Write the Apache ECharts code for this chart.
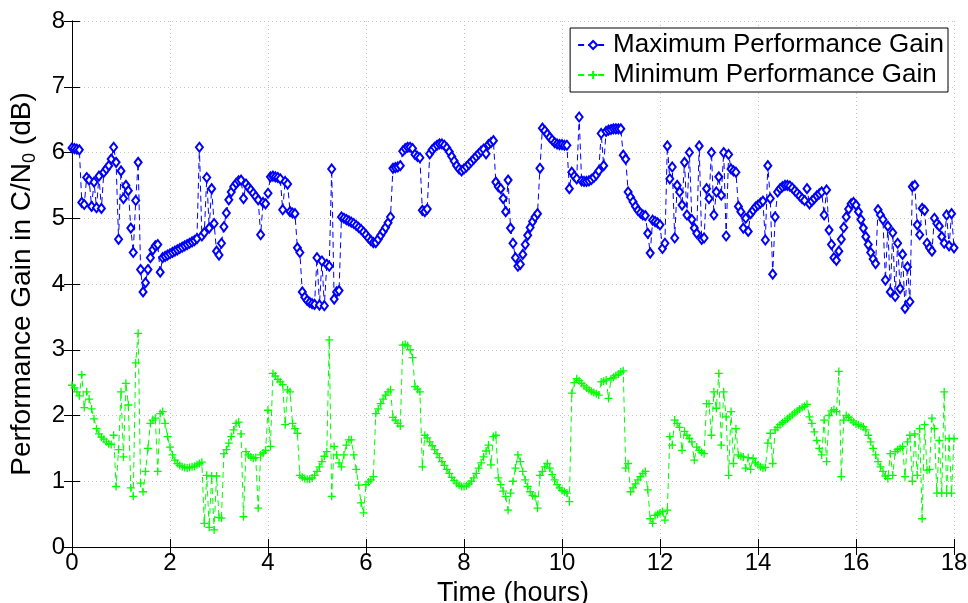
<!DOCTYPE html>
<html>
<head>
<meta charset="utf-8">
<script src="https://cdn.jsdelivr.net/npm/echarts@6/dist/echarts.min.js"></script>
<style>
  html, body { margin: 0; padding: 0; background: #fff; }
  #chart { width: 968px; height: 603px; }
</style>
</head>
<body>
<div id="chart"></div>
<script>
// Samples are logged every 3 minutes (0.05 h), from 0 h to 18 h.
const SAMPLE_STEP_H = 0.05;

// Maximum performance gain in C/N0 (dB), one row per hour.
const maxGain = [
  6.07,6.06,6.05,6.04,5.24,5.21,5.62,5.58,5.18,5.55,5.16,5.64,5.15,5.70,5.75,5.80,5.90,6.08,5.85,4.68,
  5.72,5.30,5.50,5.42,4.85,4.48,5.27,5.85,4.22,3.88,4.02,4.22,4.40,4.52,4.58,4.60,4.18,4.40,4.42,4.44,
  4.46,4.48,4.50,4.52,4.54,4.56,4.58,4.60,4.62,4.64,4.66,4.69,6.08,4.73,4.78,5.62,4.85,5.45,4.92,4.50,
  4.44,4.62,4.87,5.08,5.28,5.40,5.48,5.53,5.57,5.58,5.30,5.52,5.47,5.43,5.38,5.33,5.28,4.75,5.24,5.22,
  5.38,5.63,5.64,5.63,5.62,5.60,5.13,5.56,5.52,5.10,5.08,5.07,4.55,4.48,3.88,3.80,3.75,3.72,3.70,3.69,
  4.40,3.68,4.35,3.67,4.30,4.27,5.75,3.77,3.88,3.90,5.02,5.00,4.98,4.96,4.94,4.92,4.89,4.86,4.83,4.79,
  4.75,4.70,4.66,4.63,4.63,4.68,4.74,4.80,4.86,4.93,5.02,5.76,5.77,5.78,5.80,6.02,6.06,6.08,6.08,6.06,
  5.97,5.94,5.92,5.12,5.10,5.14,5.98,6.04,6.08,6.11,6.13,6.13,6.11,6.07,6.01,5.94,5.87,5.80,5.75,5.72,
  5.75,5.78,5.82,5.86,5.90,5.94,5.98,6.02,6.05,5.98,6.12,6.15,6.18,5.55,5.48,5.45,5.30,5.10,5.58,4.85,
  4.62,4.40,4.27,4.30,4.45,4.60,4.74,4.86,4.95,5.02,5.07,5.76,6.37,6.33,6.28,6.23,6.19,6.15,6.13,6.12,
  6.12,6.11,6.11,5.45,5.70,5.64,5.60,6.54,5.57,5.56,5.56,5.57,5.59,5.62,5.66,5.72,6.29,5.80,6.32,6.34,
  6.35,6.36,6.36,6.36,6.36,5.96,5.90,5.40,5.32,5.25,5.18,5.12,5.08,5.05,5.04,4.77,4.47,4.97,4.95,4.93,
  4.90,4.54,4.62,6.10,5.60,5.78,4.70,5.50,5.40,5.20,5.85,5.05,6.00,4.98,4.85,4.77,6.10,4.68,4.70,5.45,
  5.30,6.00,5.05,5.40,5.63,5.35,6.00,4.73,5.97,5.75,5.72,5.70,5.18,5.10,4.85,5.00,4.80,5.07,5.12,5.17,
  5.20,5.23,5.26,4.67,5.80,5.30,4.15,5.02,5.40,5.45,5.48,5.50,5.50,5.49,5.46,5.42,5.38,5.34,5.30,5.27,
  5.45,5.22,5.26,5.30,5.34,5.37,5.40,5.05,5.43,4.82,4.60,4.40,4.36,4.50,4.68,4.86,5.02,5.14,5.22,5.24,
  5.20,5.10,4.98,4.85,4.72,4.60,4.48,4.38,4.31,5.13,5.05,4.98,4.06,4.88,3.88,4.78,3.81,4.62,3.93,4.45,
  3.63,4.26,3.73,5.48,5.50,4.90,4.75,5.15,5.12,4.62,4.55,4.50,5.00,4.92,4.88,4.72,4.62,5.05,4.58,5.07,
  4.55
];

// Minimum performance gain in C/N0 (dB), one row per hour.
const minGain = [
  2.46,2.42,2.36,2.30,2.62,2.12,2.36,2.25,2.10,1.95,1.80,1.72,1.67,1.64,1.60,1.57,1.56,1.70,0.92,1.48,
  2.36,1.37,2.49,2.16,0.90,0.77,2.80,3.25,0.97,0.84,1.15,1.50,1.88,1.93,1.96,1.15,2.03,2.06,1.88,1.68,
  1.52,1.40,1.32,1.27,1.24,1.22,1.21,1.20,1.21,1.22,1.23,1.25,1.27,1.29,0.36,1.09,0.30,1.08,0.26,1.08,
  0.45,0.44,1.42,1.48,1.58,1.68,1.78,1.88,1.90,1.72,0.46,1.45,1.40,1.37,1.35,1.36,0.59,1.40,1.43,1.47,
  2.08,1.53,2.64,2.60,2.55,2.51,2.47,1.86,2.39,2.36,1.88,1.80,1.73,1.09,1.06,1.04,1.03,1.03,1.05,1.09,
  1.15,1.22,1.30,1.38,1.45,3.15,0.77,1.53,1.40,1.28,1.22,1.40,1.55,1.63,1.63,1.40,1.18,0.94,0.67,0.52,
  0.95,0.99,1.02,1.07,2.03,2.10,2.18,2.25,2.31,2.36,2.39,1.97,1.93,1.88,1.84,3.07,3.08,3.06,3.00,2.88,
  2.44,2.40,2.36,1.22,1.70,1.66,1.60,1.54,1.48,1.42,1.36,1.30,1.24,1.18,1.12,1.06,1.01,0.97,0.94,0.92,
  0.92,0.93,0.96,1.00,1.05,1.12,1.20,1.28,1.37,1.46,1.55,1.25,1.68,1.70,1.05,0.95,0.85,0.77,0.56,0.82,
  1.00,1.20,1.40,1.30,1.15,1.02,0.92,0.84,0.78,0.77,0.59,1.09,1.15,1.22,1.27,1.20,1.10,1.02,0.95,0.90,
  0.86,0.84,0.82,0.69,2.34,2.50,2.56,2.53,2.49,2.45,2.42,2.39,2.37,2.35,2.33,2.31,2.51,2.52,2.54,2.26,
  2.56,2.58,2.61,2.63,2.66,2.68,1.20,1.27,0.84,0.90,0.96,1.02,1.07,1.12,1.15,0.87,0.43,0.36,0.48,0.50,
  0.52,0.54,0.41,0.56,1.68,1.55,1.93,1.88,1.82,1.47,1.76,1.70,1.65,1.60,1.32,1.52,1.47,1.44,1.42,2.18,
  2.18,1.70,2.36,2.11,2.64,1.55,2.36,1.98,1.09,2.06,1.27,1.80,1.40,1.38,1.37,1.20,1.36,1.18,1.35,1.28,
  1.25,1.22,1.20,1.21,1.58,1.73,1.27,1.78,1.82,1.86,1.89,1.92,1.95,1.98,2.01,2.04,2.07,2.10,2.12,2.14,
  2.17,1.98,1.88,1.75,1.62,1.50,1.40,1.93,1.30,2.00,2.07,2.09,2.06,2.67,1.07,1.93,2.00,1.97,1.93,1.90,
  1.87,1.86,1.84,1.83,1.78,1.70,1.60,1.50,1.40,1.30,1.22,1.15,1.08,1.04,1.42,1.09,1.45,1.48,1.50,1.53,
  1.07,1.60,1.70,1.00,1.72,1.09,1.80,0.43,1.86,1.17,1.18,1.96,1.80,0.82,1.62,0.82,2.36,0.82,1.65,0.82,
  1.65
];

const seriesNames = ['Maximum Performance Gain', 'Minimum Performance Gain'];
const xTicks = { min: 0, max: 18, step: 2 };
const yTicks = { min: 0, max: 8, step: 1 };

const FONT = '"Liberation Sans", Arial, Helvetica, sans-serif';

function withTime(values) {
  return values.map((v, i) => [+(i * SAMPLE_STEP_H).toFixed(2), v]);
}

const chart = echarts.init(document.getElementById('chart'), null, { renderer: 'canvas' });

const gridLine = { show: true, lineStyle: { color: '#c4c4c4', type: [1, 3], width: 1 } };
const blackLine = { show: true, lineStyle: { color: '#000', width: 1 } };
const innerTick = { show: true, inside: true, length: 8, lineStyle: { color: '#000', width: 1 } };

chart.setOption({
  animation: false,
  backgroundColor: '#fff',
  grid: {
    left: 72, right: 14, top: 21, bottom: 56,
    containLabel: false,
    outerBoundsMode: 'none'
  },
  legend: {
    data: seriesNames,
    orient: 'vertical',
    right: 20,
    top: 28,
    itemWidth: 30,
    itemHeight: 10,
    itemGap: 4,
    padding: [4, 4, 4, 7],
    backgroundColor: '#fff',
    borderColor: '#000',
    borderWidth: 1,
    borderRadius: 0,
    textStyle: { fontFamily: FONT, fontSize: 26, color: '#000' }
  },
  xAxis: [
    {
      type: 'value', min: xTicks.min, max: xTicks.max, interval: xTicks.step,
      position: 'bottom',
      name: 'Time (hours)', nameLocation: 'middle', nameGap: 27,
      nameTextStyle: { fontFamily: FONT, fontSize: 27, color: '#000' },
      axisLine: blackLine, axisTick: innerTick,
      axisLabel: { fontFamily: FONT, fontSize: 24, color: '#000', margin: 4 },
      splitLine: gridLine
    },
    {
      type: 'value', min: xTicks.min, max: xTicks.max, interval: xTicks.step,
      position: 'top',
      axisLine: blackLine, axisTick: innerTick,
      axisLabel: { show: false }, splitLine: { show: false }
    }
  ],
  yAxis: [
    {
      type: 'value', min: yTicks.min, max: yTicks.max, interval: yTicks.step,
      position: 'left',
      name: '{n|Performance Gain in C/N}{s|0}{n| (dB)}',
      nameLocation: 'middle', nameGap: 33, nameRotate: 90,
      nameTextStyle: {
        fontFamily: FONT, fontSize: 28, color: '#000',
        rich: {
          n: { fontFamily: FONT, fontSize: 28, color: '#000' },
          s: { fontFamily: FONT, fontSize: 18, color: '#000', padding: [16, 0, 0, 0] }
        }
      },
      axisLine: blackLine, axisTick: innerTick,
      axisLabel: { fontFamily: FONT, fontSize: 24, color: '#000', margin: 7 },
      splitLine: gridLine
    },
    {
      type: 'value', min: yTicks.min, max: yTicks.max, interval: yTicks.step,
      position: 'right',
      axisLine: blackLine, axisTick: innerTick,
      axisLabel: { show: false }, splitLine: { show: false }
    }
  ],
  series: [
    {
      name: seriesNames[0],
      type: 'line',
      data: withTime(maxGain),
      symbol: 'emptyDiamond',
      symbolSize: [7, 9],
      showSymbol: true,
      showAllSymbol: true,
      lineStyle: { color: '#0000ff', width: 1, type: [6, 4] },
      itemStyle: { color: '#0000ff', borderColor: '#0000ff', borderWidth: 1.2 },
      emphasis: { disabled: true }
    },
    {
      name: seriesNames[1],
      type: 'line',
      data: withTime(minGain),
      symbol: 'path://M0,5L10,5M5,0L5,10',
      symbolSize: 8,
      showSymbol: true,
      showAllSymbol: true,
      lineStyle: { color: '#00ff00', width: 1, type: [6, 4] },
      itemStyle: { color: '#00ff00', borderColor: '#00ff00', borderWidth: 1.3 },
      emphasis: { disabled: true }
    }
  ]
});
</script>
</body>
</html>
